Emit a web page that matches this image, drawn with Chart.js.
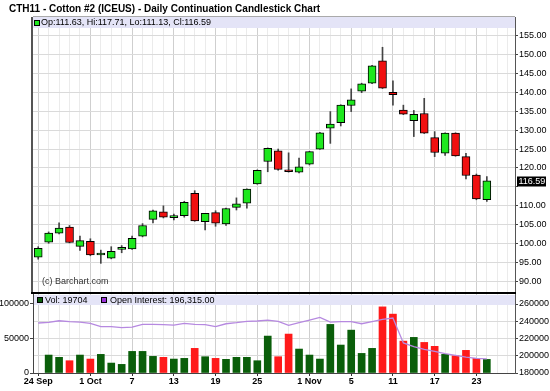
<!DOCTYPE html>
<html><head><meta charset="utf-8">
<script src="https://cdn.jsdelivr.net/npm/chart.js"></script>
<style>
html,body{margin:0;padding:0;background:#fff;width:550px;height:391px;overflow:hidden}
canvas{position:absolute;left:0}
#c1{top:0}
#c2{top:294px}
</style></head><body>
<canvas id="c1" width="550" height="294"></canvas>
<canvas id="c2" width="550" height="97"></canvas>
<script>
const FONT = 'Arial, "Liberation Sans", sans-serif';
const title = 'CTH11 - Cotton #2 (ICEUS) - Daily Continuation Candlestick Chart';

const dates = ['Sep 24','Sep 27','Sep 28','Sep 29','Sep 30','Oct 1','Oct 4','Oct 5','Oct 6','Oct 7','Oct 8','Oct 11','Oct 12','Oct 13','Oct 14','Oct 15','Oct 18','Oct 19','Oct 20','Oct 21','Oct 22','Oct 25','Oct 26','Oct 27','Oct 28','Oct 29','Nov 1','Nov 2','Nov 3','Nov 4','Nov 5','Nov 8','Nov 9','Nov 10','Nov 11','Nov 12','Nov 15','Nov 16','Nov 17','Nov 18','Nov 19','Nov 22','Nov 23','Nov 24'];
const tickDates = ['Sep 24','Oct 1','Oct 7','Oct 13','Oct 19','Oct 25','Nov 1','Nov 5','Nov 11','Nov 17','Nov 23'];
const tickTexts = ['24 Sep','1 Oct','7','13','19','25','1 Nov','5','11','17','23'];

const open  = [96.4,100.4,102.8,104.4,99.3,100.6,97.0,96.2,98.5,98.6,102.0,106.4,108.4,106.9,107.4,113.3,105.8,108.2,105.2,109.6,110.7,115.8,121.7,124.5,119.5,118.9,121.0,125.0,130.5,132.0,136.5,140.3,142.4,148.3,140.0,135.3,132.5,134.4,128.0,123.9,129.2,123.0,118.1,111.63];
const high  = [99.2,103.1,105.5,104.8,102.0,101.3,98.3,99.2,99.5,102.0,105.3,108.9,110.0,107.8,111.2,114.0,108.0,108.7,109.4,112.1,114.5,119.5,125.3,125.0,124.0,122.6,124.4,129.4,134.9,136.7,140.9,142.4,147.1,151.9,143.0,136.6,135.2,138.4,129.6,129.3,129.3,123.9,118.4,117.71];
const low   = [95.9,100.1,102.6,100.2,98.2,96.8,94.8,96.0,97.6,98.5,101.8,105.5,106.8,106.3,107.0,105.9,103.6,104.6,104.8,108.9,109.4,115.7,119.0,119.4,118.9,118.7,120.8,124.9,126.5,131.1,134.9,139.9,142.3,141.0,136.6,134.1,128.3,129.1,123.0,123.3,123.1,117.1,111.6,111.13];
const close = [98.8,102.8,104.1,100.3,100.8,97.0,97.1,98.0,98.6,101.4,104.8,108.7,107.0,107.1,110.9,106.0,108.0,105.4,109.3,110.5,114.4,119.4,125.2,119.6,119.0,120.3,124.3,129.3,131.6,136.6,138.0,142.2,147.0,141.1,139.4,134.2,134.2,129.2,124.1,129.2,123.2,118.0,111.8,116.59];
const volume = [null,26000,22700,17800,26000,20200,27000,14400,12500,31300,31300,24100,22700,20200,21200,35700,23600,21200,19800,22700,22700,17800,53500,23600,56400,34700,26000,20200,70400,40500,62100,28400,35700,95800,85300,46200,51600,44300,38600,27000,25000,32800,21200,19704];
const openInterest = [238000,238700,240600,239500,239100,237500,233700,233700,232500,233300,236300,236300,236000,235600,237500,236300,236000,233700,237100,238300,239800,240300,241400,239800,235200,238300,241400,244500,239100,239500,239500,237100,239500,242100,243700,214800,210500,207400,205000,202400,200400,198500,196900,196315];

const priceTicks = [90,95,100,105,110,115,120,125,130,135,140,145,150,155];
const volTicks = [0,50000,100000];
const oiTicks = [180000,200000,220000,240000,260000];
const slotCount = 46;

const GREEN = '#1ee81e', RED = '#f01010', VGREEN = '#0a5e0a', VRED = '#ff1a1a';
const n = dates.length - 1;
const up = close.map((c,i) => c >= open[i]);
const idx = dates.map((_, i) => i);
const labelIdx = tickDates.map(d => dates.indexOf(d));
const slots = Array.from({length: slotCount}, (_, i) => i);

Chart.defaults.font.family = FONT;
Chart.defaults.animation = false;

const gridColor = ctx => (ctx.tick && labelIdx.includes(ctx.tick.value)) ? '#cfcfcf' : '#ebebeb';

const mainDecor = {
  id: 'mainDecor',
  beforeDatasetsDraw(chart) {
    const {ctx, chartArea: a} = chart;
    ctx.save();
    ctx.fillStyle = '#e4e4f7';
    ctx.fillRect(a.left, a.top, a.right - a.left, 11);
    ctx.fillStyle = GREEN;
    ctx.fillRect(a.left + 1.5, a.top + 3.5, 5, 5);
    ctx.strokeStyle = '#000'; ctx.lineWidth = 1;
    ctx.strokeRect(a.left + 1.5, a.top + 3.5, 5, 5);
    ctx.fillStyle = '#000';
    ctx.font = '9px ' + FONT;
    ctx.textBaseline = 'middle'; ctx.textAlign = 'left';
    ctx.fillText('Op:' + open[n].toFixed(2) + ', Hi:' + high[n].toFixed(2) + ', Lo:' + low[n].toFixed(2) + ', Cl:' + close[n].toFixed(2), a.left + 8, a.top + 6);
    ctx.restore();
  },
  afterDraw(chart) {
    const {ctx, chartArea: a} = chart;
    ctx.save();
    ctx.fillStyle = '#000';
    ctx.font = 'bold 10px ' + FONT;
    ctx.textBaseline = 'middle'; ctx.textAlign = 'left';
    ctx.fillText(title, 9, 9);
    ctx.font = '9px ' + FONT;
    ctx.fillStyle = '#333';
    ctx.fillText('(c) Barchart.com', 42, 282);
    ctx.fillStyle = '#555';
    ctx.fillRect(a.left - 2, a.top, 2, a.bottom - a.top);
    ctx.fillStyle = '#aaa';
    ctx.fillRect(a.left, a.top - 1, a.right - a.left, 1);
    ctx.fillStyle = '#000';
    ctx.fillRect(a.left - 2, a.bottom, a.right - a.left + 3, 2);
    const y = chart.scales.y.getPixelForValue(close[n]);
    ctx.fillStyle = '#000';
    ctx.fillRect(517, Math.round(y) - 4.5, 29, 10);
    ctx.fillStyle = '#fff';
    ctx.font = '9px ' + FONT;
    ctx.fillText(close[n].toFixed(2), 518.5, Math.round(y) + 0.5);
    ctx.restore();
  }
};

new Chart(document.getElementById('c1'), {
  type: 'bar',
  data: {
    datasets: [
      {
        label: 'Body',
        data: idx.map(i => ({x: i, y: [open[i], close[i]]})),
        backgroundColor: up.map(u => u ? GREEN : RED),
        borderColor: '#000', borderWidth: 1, borderSkipped: false,
        barThickness: 8, minBarLength: 2, grouped: false, order: 0
      },
      {
        label: 'Wick',
        data: idx.map(i => ({x: i, y: [low[i], high[i]]})),
        backgroundColor: '#444', borderWidth: 0,
        barThickness: 1, grouped: false, order: 1
      }
    ]
  },
  options: {
    responsive: false, animation: false, events: [],
    layout: {padding: {left: 33, top: 17, right: 0, bottom: 2}},
    plugins: {legend: {display: false}, tooltip: {enabled: false}},
    scales: {
      x: {
        type: 'linear', min: -0.5, max: 45.7, offset: false,
        afterBuildTicks: s => { s.ticks = slots.map(v => ({value: v})); },
        ticks: {display: false},
        grid: {color: gridColor, drawTicks: false, offset: false},
        border: {display: false},
        afterFit: s => { s.height = 0; s.paddingLeft = 0; s.paddingRight = 0; }
      },
      y: {
        position: 'right', min: 87.23, max: 159.89,
        afterBuildTicks: s => { s.ticks = priceTicks.map(v => ({value: v})); },
        ticks: {
          font: {size: 9}, color: '#000', padding: 1,
          callback: v => Math.abs(v - close[n]) < 2.5 ? '' : v.toFixed(2)
        },
        grid: {color: '#dadada', tickLength: 3, tickColor: '#444'},
        border: {display: true, color: '#555', width: 1},
        afterFit: s => { s.width = 35; s.paddingTop = 0; s.paddingBottom = 0; }
      }
    }
  },
  plugins: [mainDecor]
});

const volDecor = {
  id: 'volDecor',
  beforeDatasetsDraw(chart) {
    const {ctx, chartArea: a} = chart;
    ctx.save();
    ctx.fillStyle = '#e4e4f7';
    ctx.fillRect(a.left + 1, a.top + 1, a.right - a.left - 1, 10);
    ctx.lineWidth = 1; ctx.strokeStyle = '#000';
    ctx.fillStyle = VGREEN;
    ctx.fillRect(a.left + 4.5, a.top + 3.5, 5, 5);
    ctx.strokeRect(a.left + 4.5, a.top + 3.5, 5, 5);
    ctx.fillStyle = '#9a30d8';
    ctx.fillRect(a.left + 68.5, a.top + 3.5, 5, 5);
    ctx.strokeRect(a.left + 68.5, a.top + 3.5, 5, 5);
    ctx.fillStyle = '#000';
    ctx.font = '9px ' + FONT;
    ctx.textBaseline = 'middle'; ctx.textAlign = 'left';
    ctx.fillText('Vol: ' + volume[n], a.left + 12, a.top + 6.5);
    ctx.fillText('Open Interest: ' + openInterest[n].toLocaleString('en-US') + '.00', a.left + 77, a.top + 6.5);
    ctx.restore();
  }
};

new Chart(document.getElementById('c2'), {
  type: 'bar',
  data: {
    datasets: [
      {
        type: 'line', label: 'Open Interest', yAxisID: 'yo',
        data: idx.map(i => ({x: i, y: openInterest[i]})),
        borderColor: '#b689e0', borderWidth: 1.3, pointRadius: 0, tension: 0, order: 0
      },
      {
        label: 'Vol', yAxisID: 'yv',
        data: idx.map(i => ({x: i, y: volume[i]})),
        backgroundColor: up.map(u => u ? VGREEN : VRED),
        barThickness: 7, grouped: false, order: 1
      }
    ]
  },
  options: {
    responsive: false, animation: false, events: [],
    layout: {padding: {left: 0, top: 0, right: 0, bottom: 0}},
    plugins: {legend: {display: false}, tooltip: {enabled: false}},
    scales: {
      x: {
        type: 'linear', min: -0.5, max: 45.7, offset: false,
        afterBuildTicks: s => { s.ticks = slots.map(v => ({value: v})); },
        ticks: {
          autoSkip: false, maxRotation: 0, minRotation: 0, padding: 0,
          font: {size: 9, weight: 'bold'}, color: '#000',
          callback: v => { const k = labelIdx.indexOf(v); return k >= 0 ? tickTexts[k] : ''; }
        },
        grid: {
          color: gridColor, tickLength: 3, offset: false,
          tickColor: ctx => (ctx.tick && labelIdx.includes(ctx.tick.value)) ? '#333' : 'rgba(0,0,0,0)'
        },
        border: {display: true, color: '#444', width: 1},
        afterFit: s => { s.height = 18; s.paddingLeft = 0; s.paddingRight = 0; }
      },
      yv: {
        position: 'left', min: 0, max: 114450,
        afterBuildTicks: s => { s.ticks = volTicks.map(v => ({value: v})); },
        ticks: {font: {size: 9}, color: '#000', padding: 1, callback: v => String(v)},
        grid: {drawOnChartArea: false, tickLength: 3, tickColor: '#444'},
        border: {display: true, color: '#444', width: 1},
        afterFit: s => { s.width = 33; s.paddingTop = 0; s.paddingBottom = 0; }
      },
      yo: {
        position: 'right', min: 180000, max: 271600,
        afterBuildTicks: s => { s.ticks = oiTicks.map(v => ({value: v})); },
        ticks: {font: {size: 9}, color: '#000', padding: 1, callback: v => String(v)},
        grid: {color: '#dadada', tickLength: 3, tickColor: '#444'},
        border: {display: true, color: '#555', width: 1},
        afterFit: s => { s.width = 35; s.paddingTop = 0; s.paddingBottom = 0; }
      }
    }
  },
  plugins: [volDecor]
});
</script>
</body></html>
